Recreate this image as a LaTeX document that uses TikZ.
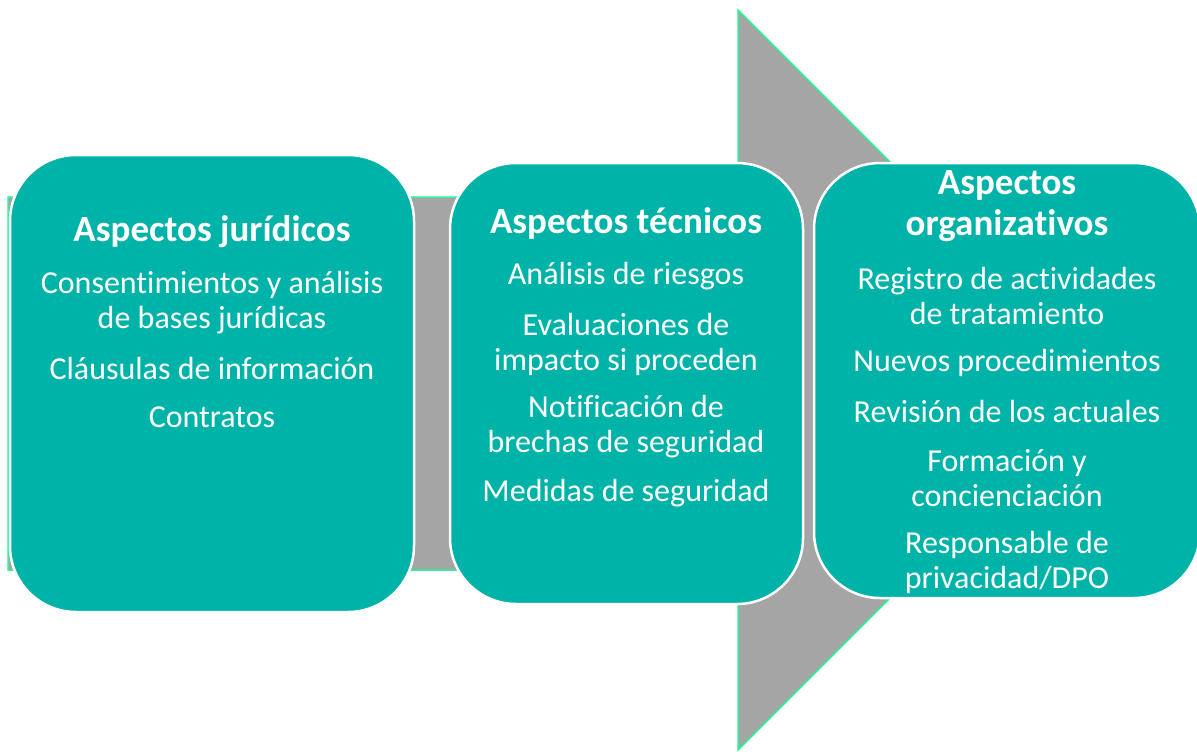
\documentclass[tikz,border=0pt]{standalone}
\usepackage{fontspec}
\setmainfont[Ligatures=CommonOff]{Carlito}
\definecolor{teal1}{RGB}{0,179,169}
\definecolor{grey1}{RGB}{165,165,165}
\definecolor{mint}{RGB}{40,245,150}
\begin{document}
\begin{tikzpicture}[x=1pt,y=-1pt,
  box/.style={draw=white,line width=2.5pt,fill=teal1,rounded corners=66pt,inner sep=0pt},
  head/.style={text=white,font=\fontsize{37}{41}\selectfont\bfseries,align=center,inner sep=0pt},
  item/.style={text=white,font=\fontsize{32}{35}\selectfont,align=center,inner sep=0pt}]
\useasboundingbox (0,0) rectangle (1197,753);
% big arrow
\draw[fill=grey1,draw=mint,line width=1.5pt]
  (8,197) -- (738,197) -- (738,10) -- (1108,380) -- (738,750) -- (738,570) -- (8,570) -- cycle;
% boxes
\node[box,minimum width=404pt,minimum height=457pt] (b1) at (212,383.5) {};
\node[box,minimum width=353pt,minimum height=441pt] (b2) at (626.5,383.5) {};
\node[box,minimum width=386pt,minimum height=435pt] (b3) at (1007,380.5) {};
% box 1
\node[head] (h1) at (212,232) {Aspectos jurídicos};
\node[item] (i11) at (212,302.5) {Consentimientos y análisis\\de bases jurídicas};
\node[item] (i12) at (212,368.5) {Cláusulas de información};
\node[item] (i13) at (212,417.5) {Contratos};
% box 2
\node[head] (h2) at (626,223) {Aspectos técnicos};
\node[item] (i21) at (626,276.5) {Análisis de riesgos};
\node[item] (i22) at (626,344) {Evaluaciones de\\impacto si proceden};
\node[item] (i23) at (626,426.5) {Notificación de\\brechas de seguridad};
\node[item] (i24) at (626,493.5) {Medidas de seguridad};
% box 3
\node[head] (h3) at (1007,206) {Aspectos\\organizativos};
\node[item] (i31) at (1007,296.5) {Registro de actividades\\de tratamiento};
\node[item] (i32) at (1007,362.5) {Nuevos procedimientos};
\node[item] (i33) at (1007,411.5) {Revisión de los actuales};
\node[item] (i34) at (1007,478) {Formación y\\concienciación};
\node[item] (i35) at (1007,562.5) {Responsable de\\privacidad/DPO};
\end{tikzpicture}
\end{document}
